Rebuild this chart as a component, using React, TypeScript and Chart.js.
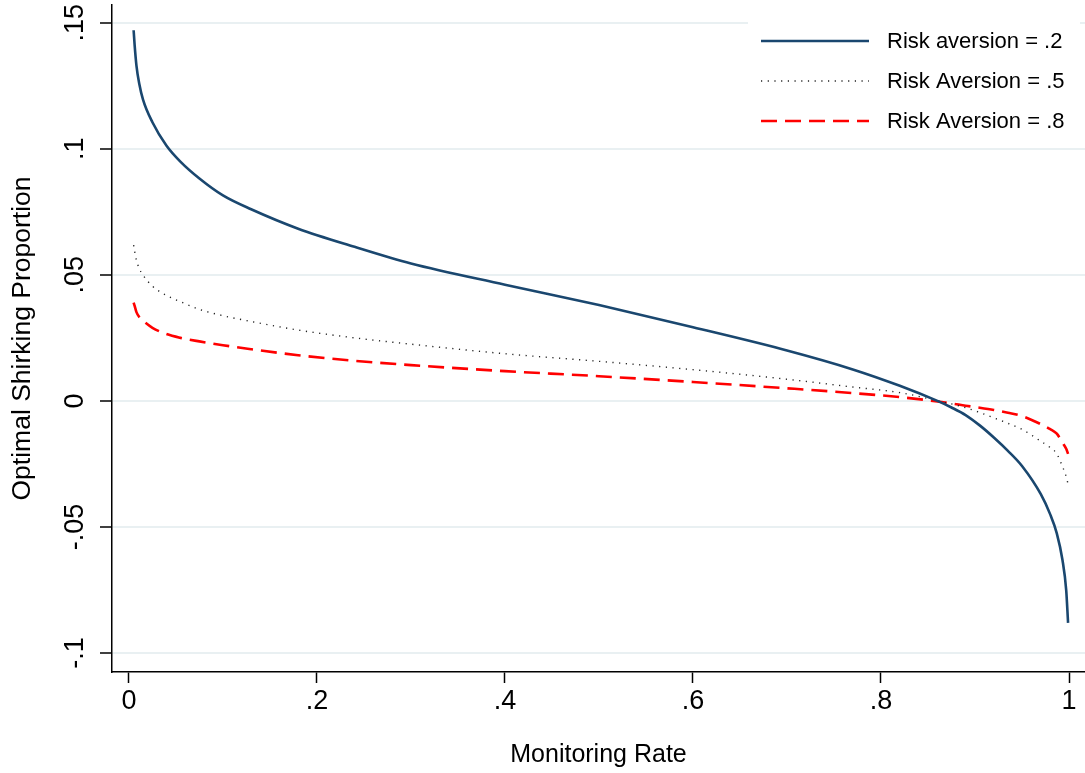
import React, { useEffect, useRef } from 'react';
import { Chart, registerables } from 'chart.js';

Chart.register(...registerables);

const monitoringRate = [0.005, 0.006, 0.008, 0.011, 0.015, 0.025, 0.04, 0.055, 0.075, 0.1, 0.13, 0.18, 0.24, 0.3, 0.4, 0.5, 0.6, 0.7, 0.77, 0.82, 0.86, 0.875, 0.89, 0.905, 0.92, 0.935, 0.95, 0.97, 0.98, 0.987, 0.993, 0.997, 0.999];
const riskAversion02 = [0.147, 0.1415, 0.133, 0.1258, 0.1195, 0.1105, 0.1012, 0.0948, 0.0882, 0.0815, 0.076, 0.0683, 0.0611, 0.0545, 0.0461, 0.038, 0.0292, 0.02, 0.0125, 0.006, 0.0, -0.0026, -0.0056, -0.0097, -0.0145, -0.0198, -0.0258, -0.037, -0.045, -0.0525, -0.063, -0.075, -0.088];
const riskAversion05 = [0.0618, 0.0595, 0.0558, 0.0525, 0.0499, 0.0455, 0.0418, 0.0393, 0.0363, 0.0338, 0.0315, 0.0281, 0.025, 0.0225, 0.0187, 0.0157, 0.0124, 0.0086, 0.0055, 0.0033, 0.0001, -0.0012, -0.0027, -0.0046, -0.0067, -0.0089, -0.0113, -0.016, -0.0185, -0.021, -0.026, -0.03, -0.033];
const riskAversion08 = [0.039, 0.0378, 0.0352, 0.0333, 0.0318, 0.029, 0.0265, 0.025, 0.0236, 0.0221, 0.0205, 0.0181, 0.0159, 0.0142, 0.0118, 0.0098, 0.0075, 0.005, 0.0031, 0.0015, -0.0002, -0.001, -0.0019, -0.0027, -0.0036, -0.0047, -0.006, -0.0092, -0.0112, -0.013, -0.0165, -0.019, -0.021];

const seriesLabels = ['Risk aversion = .2', 'Risk Aversion = .5', 'Risk Aversion = .8'];
const xTickValues = [0, 0.2, 0.4, 0.6, 0.8, 1];
const xTickLabels = ['0', '.2', '.4', '.6', '.8', '1'];
const yTickValues = [-0.1, -0.05, 0, 0.05, 0.1, 0.15];
const yTickLabels = ['-.1', '-.05', '0', '.05', '.1', '.15'];
const xAxisTitle = 'Monitoring Rate';
const yAxisTitle = 'Optimal Shirking Proportion';

const FONT = '"Liberation Sans", Arial, Helvetica, sans-serif';

const labelFor = (values: number[], labels: string[]) => (v: any) => {
  const i = values.findIndex((t) => Math.abs(t - Number(v)) < 1e-9);
  return i >= 0 ? labels[i] : '';
};

const legendPlugin = {
  id: 'stataLegend',
  afterDatasetsDraw(chart: any) {
    const { ctx, chartArea } = chart;
    const right = chartArea.right;
    ctx.save();
    ctx.fillStyle = '#ffffff';
    ctx.fillRect(right - 337, 21, 332, 125);
    chart.data.datasets.forEach((ds: any, i: number) => {
      const y = 41 + i * 40;
      ctx.beginPath();
      ctx.strokeStyle = ds.borderColor;
      ctx.lineWidth = ds.borderWidth;
      ctx.lineCap = 'butt';
      ctx.setLineDash(ds.borderDash || []);
      ctx.moveTo(right - 324, y);
      ctx.lineTo(right - 216, y);
      ctx.stroke();
      ctx.setLineDash([]);
      ctx.fillStyle = '#000000';
      ctx.font = `22px ${FONT}`;
      ctx.textAlign = 'left';
      ctx.textBaseline = 'middle';
      ctx.fillText(ds.label, right - 198, y + 1);
    });
    ctx.restore();
  },
};

export default function App() {
  const canvasRef = useRef<HTMLCanvasElement | null>(null);

  useEffect(() => {
    const canvas = canvasRef.current;
    if (!canvas) return;
    const mk = (ys: number[]) => monitoringRate.map((x, i) => ({ x, y: ys[i] }));
    const chart = new Chart(canvas, {
      type: 'line',
      data: {
        datasets: [
          {
            label: seriesLabels[0],
            data: mk(riskAversion02),
            borderColor: '#1a476f',
            borderWidth: 2.6,
            pointRadius: 0,
            fill: false,
            cubicInterpolationMode: 'monotone',
          },
          {
            label: seriesLabels[1],
            data: mk(riskAversion05),
            borderColor: '#222222',
            borderWidth: 1.4,
            borderDash: [1.2, 5.5],
            pointRadius: 0,
            fill: false,
            cubicInterpolationMode: 'monotone',
          },
          {
            label: seriesLabels[2],
            data: mk(riskAversion08),
            borderColor: '#ff0000',
            borderWidth: 2.6,
            borderDash: [16, 8],
            pointRadius: 0,
            fill: false,
            cubicInterpolationMode: 'monotone',
          },
        ],
      } as any,
      options: {
        responsive: false,
        animation: false,
        layout: { padding: { top: 5, right: 0, left: 0, bottom: 0 } },
        plugins: {
          legend: { display: false },
          tooltip: { enabled: false },
        },
        scales: {
          x: {
            type: 'linear',
            min: -0.018,
            max: 1.017,
            afterBuildTicks: (axis: any) => {
              axis.ticks = xTickValues.map((v) => ({ value: v }));
            },
            afterFit: (scale: any) => {
              scale.height = 101;
              scale.paddingLeft = 0;
              scale.paddingRight = 0;
            },
            ticks: {
              callback: labelFor(xTickValues, xTickLabels),
              autoSkip: false,
              minRotation: 0,
              maxRotation: 0,
              padding: 2,
              color: '#000',
              font: { family: FONT, size: 27 },
            },
            grid: {
              drawOnChartArea: false,
              drawTicks: true,
              tickLength: 11,
              tickColor: '#000',
              tickWidth: 1.5,
            },
            border: { display: true, color: '#000', width: 1.5 },
            title: {
              display: true,
              text: xAxisTitle,
              color: '#000',
              font: { family: FONT, size: 25 },
              padding: { top: 0, bottom: 3 },
            },
          },
          y: {
            type: 'linear',
            min: -0.1075,
            max: 0.157,
            afterBuildTicks: (axis: any) => {
              axis.ticks = yTickValues.map((v) => ({ value: v }));
            },
            afterFit: (scale: any) => {
              scale.width = 112;
              scale.paddingTop = 0;
              scale.paddingBottom = 0;
            },
            ticks: {
              callback: labelFor(yTickValues, yTickLabels),
              autoSkip: false,
              minRotation: 90,
              maxRotation: 90,
              crossAlign: 'center',
              padding: 1,
              color: '#000',
              font: { family: FONT, size: 27 },
            },
            grid: {
              color: '#e9f0f2',
              lineWidth: 2,
              drawTicks: true,
              tickLength: 12,
              tickColor: '#000',
              tickWidth: 1.5,
            },
            border: { display: true, color: '#000', width: 1.5 },
            title: {
              display: true,
              text: yAxisTitle,
              color: '#000',
              font: { family: FONT, size: 26.5 },
              padding: { top: 7, bottom: 0 },
            },
          },
        },
      } as any,
      plugins: [legendPlugin],
    });
    return () => chart.destroy();
  }, []);

  return (
    <div style={{ position: 'absolute', left: 0, top: 0, width: 1085, height: 773, background: '#fff' }}>
      <canvas ref={canvasRef} width={1085} height={773} style={{ display: 'block' }} />
    </div>
  );
}
